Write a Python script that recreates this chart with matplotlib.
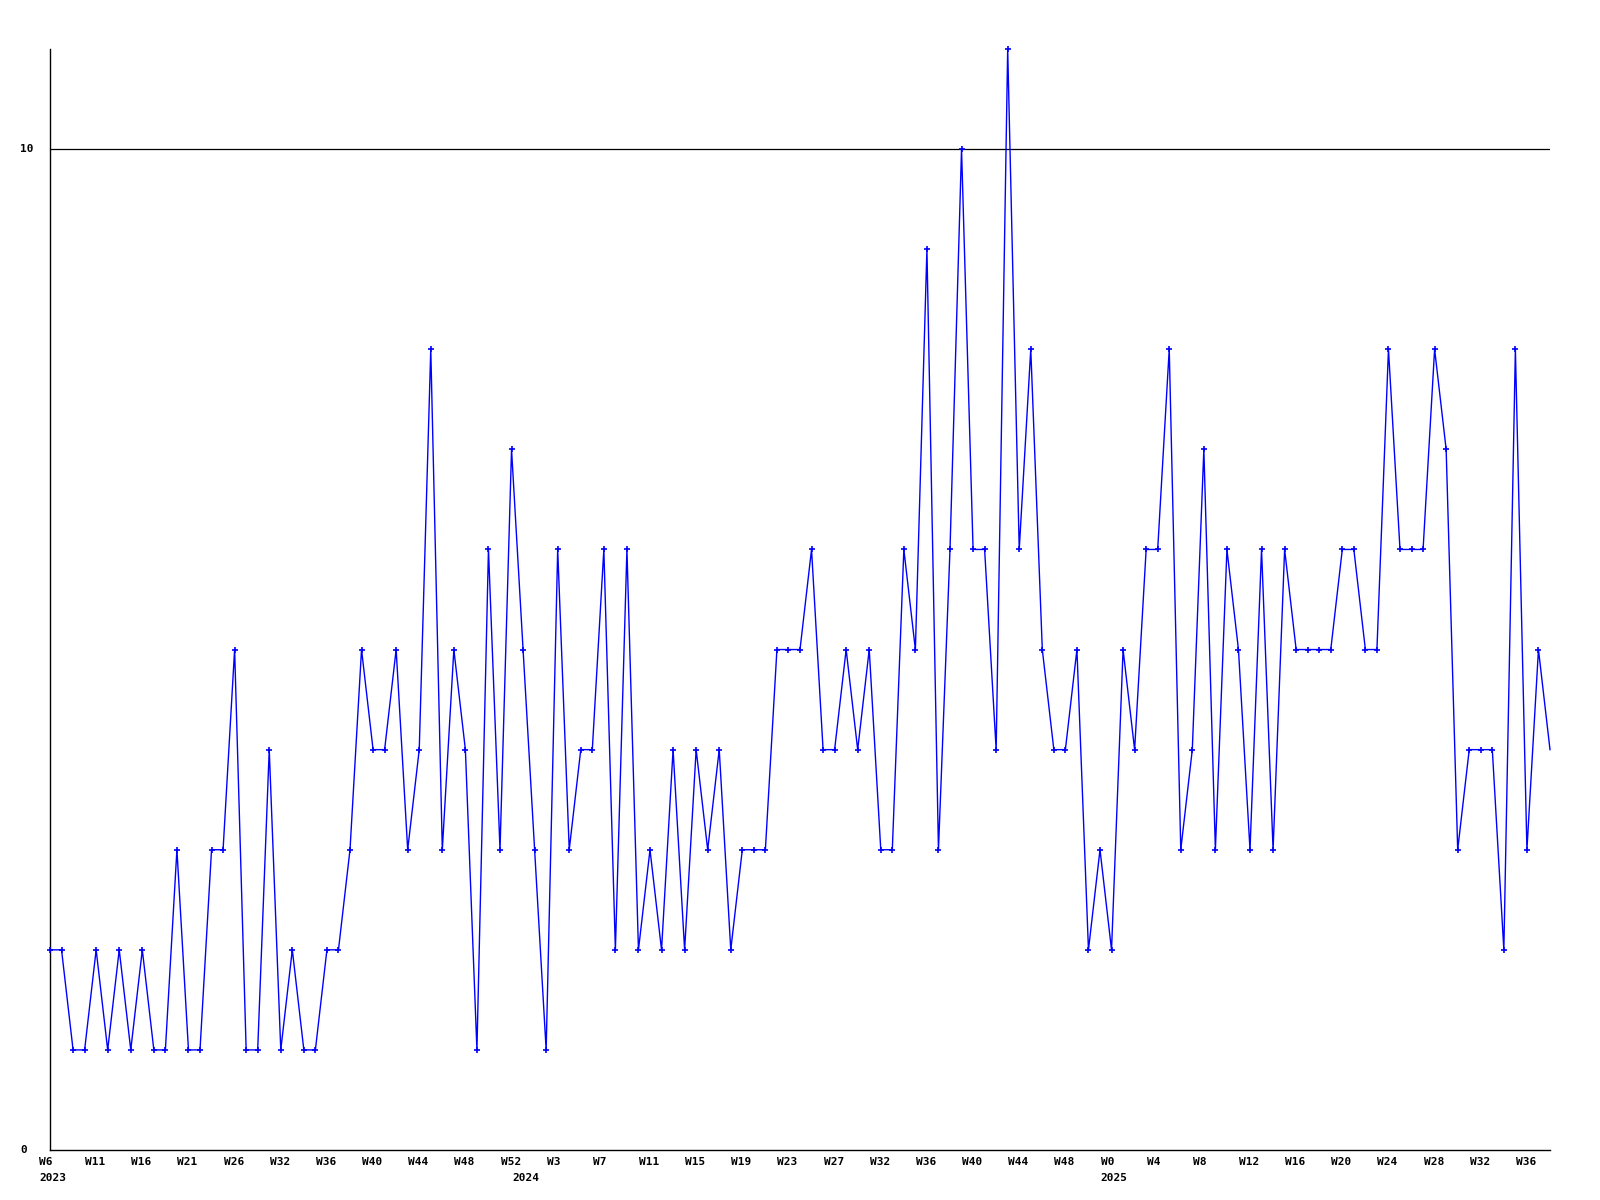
import matplotlib
matplotlib.use("Agg")
import matplotlib.pyplot as plt
import matplotlib.transforms as mtransforms
import numpy as np

# weekly values, 2023 W6 onwards
values = [2, 2, 1, 1, 2, 1, 2, 1, 2, 1, 1, 3, 1, 1, 3, 3, 5, 1, 1, 4,
          1, 2, 1, 1, 2, 2, 3, 5, 4, 4, 5, 3, 4, 8, 3, 5, 4, 1, 6, 3,
          7, 5, 3, 1, 6, 3, 4, 4, 6, 2, 6, 2, 3, 2, 4, 2, 4, 3, 4, 2,
          3, 3, 3, 5, 5, 5, 6, 4, 4, 5, 4, 5, 3, 3, 6, 5, 9, 3, 6, 10,
          6, 6, 4, 11, 6, 8, 5, 4, 4, 5, 2, 3, 2, 5, 4, 6, 6, 8, 3, 4,
          7, 3, 6, 5, 3, 6, 3, 6, 5, 5, 5, 5, 6, 6, 5, 5, 8, 6, 6, 6,
          8, 7, 3, 4, 4, 4, 2, 8, 3, 5, 4]

week_labels = ["W6", "W11", "W16", "W21", "W26", "W32", "W36", "W40", "W44", "W48", "W52",
               "W3", "W7", "W11", "W15", "W19", "W23", "W27", "W32", "W36", "W40", "W44", "W48",
               "W0", "W4", "W8", "W12", "W16", "W20", "W24", "W28", "W32", "W36"]
week_label_step = 4
year_labels = ["2023", "2024", "2025"]
year_label_index = [0, 41, 92]

y_ticks = [0, 10]
y_max = 11

W, H = 1600, 1200
fig = plt.figure(figsize=(16, 12), dpi=100)
ax = fig.add_axes([50 / W, (H - 1150) / H, 1500 / W, (1150 - 49) / H])

x = np.arange(len(values))
ax.plot(x, values, color="#0000ff", lw=1.0, marker="+", markersize=4.5,
        markeredgewidth=1.2, markevery=list(range(len(values) - 1)),
        clip_on=False, zorder=3)

ax.set_xlim(0, len(values) - 1)
ax.set_ylim(0, y_max)

for s in ["top", "right"]:
    ax.spines[s].set_visible(False)
for s in ["left", "bottom"]:
    ax.spines[s].set_color("black")
    ax.spines[s].set_linewidth(1.0)

ax.set_xticks([])
ax.set_yticks([])

# grid line at 10
ax.axhline(10, color="black", lw=0.9, zorder=1)

font = dict(family="DejaVu Sans Mono", fontweight="bold", fontsize=8, color="black")

for i, lab in enumerate(week_labels):
    ax.annotate(lab, xy=(i * week_label_step, 0), xycoords=("data", "axes fraction"),
                xytext=(-11, -12), textcoords="offset pixels",
                ha="left", va="center", **font)
for lab, idx in zip(year_labels, year_label_index):
    ax.annotate(lab, xy=(idx, 0), xycoords=("data", "axes fraction"),
                xytext=(-11, -28), textcoords="offset pixels",
                ha="left", va="center", **font)

ytrans = mtransforms.blended_transform_factory(fig.transFigure, ax.transData)
for t in y_ticks:
    ax.text(20 / W, t, str(t), transform=ytrans, ha="left", va="center", **font)

fig.savefig("out.png", dpi=100, facecolor="white")
